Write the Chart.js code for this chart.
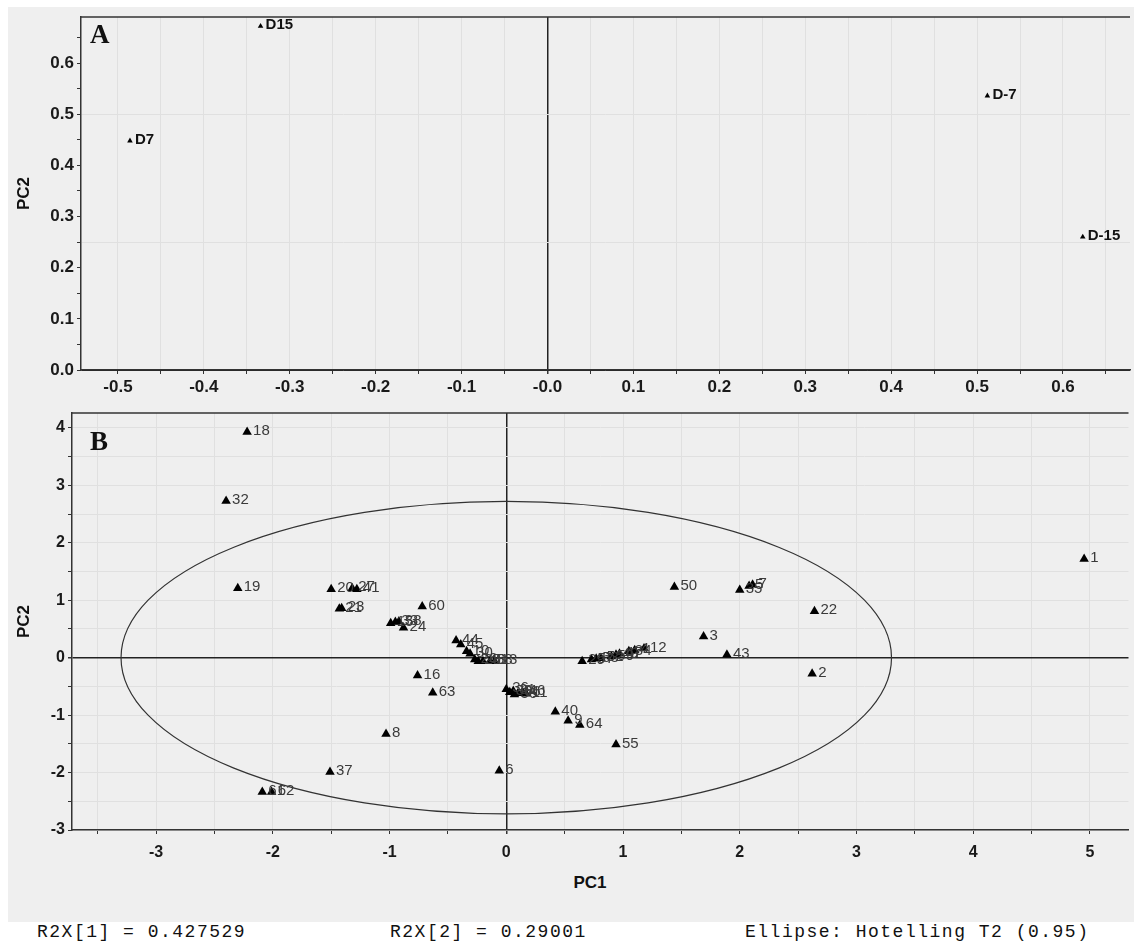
<!DOCTYPE html>
<html>
<head>
<meta charset="utf-8">
<script src="https://cdn.jsdelivr.net/npm/chart.js@4.4.1/dist/chart.umd.min.js"></script>
<style>
  body { margin: 0; background: #fff; width: 1134px; height: 943px; overflow: hidden; position: relative; }
  #panel { position: absolute; left: 8px; top: 7px; width: 1126px; height: 915px; background: #efefef; }
  canvas { position: absolute; left: 0; }
  #chartA { top: 0; }
  #chartB { top: 390px; }
  .tag { position: absolute; font-family: "Liberation Serif", "Times New Roman", serif; font-weight: bold; font-size: 27px; color: #111; line-height: 1; }
  #pc1 { position: absolute; top: 873px; left: 555px; width: 70px; text-align: center; font: bold 17px "Liberation Sans Narrow", "Liberation Sans", sans-serif; color: #111; }
  .foot { position: absolute; top: 923px; font: 18px "Liberation Mono", "Courier New", monospace; letter-spacing: 1.5px; color: #111; line-height: 1; }
</style>
</head>
<body>
<div id="panel"></div>
<canvas id="chartA" width="1134" height="400"></canvas>
<canvas id="chartB" width="1134" height="480"></canvas>
<div class="tag" style="left:90px; top:21px;">A</div>
<div class="tag" style="left:90px; top:428px;">B</div>
<div id="pc1">PC1</div>
<div class="foot" style="left:37px;">R2X[1] = 0.427529</div>
<div class="foot" style="left:390px;">R2X[2] = 0.29001</div>
<div class="foot" style="left:745px;">Ellipse: Hotelling T2 (0.95)</div>
<script>
// panel A: loadings
const aLabels = ["D15", "D7", "D-7", "D-15"];
const aPC1 = [-0.334, -0.486, 0.512, 0.623];
const aPC2 = [0.672, 0.448, 0.536, 0.26];

// panel B: scores
const bLabels = [
  "1", "2", "3", "5", "6", "7", "8", "9", "12", "16",
  "18", "19", "20", "21", "22", "23", "24", "27", "32", "35",
  "37", "40", "41", "43", "50", "55", "60", "61", "62", "63",
  "64", "15", "33", "38", "44", "45", "10", "30", "26", "28",
  "48", "58", "13", "36", "39", "56", "66", "46", "11", "31",
  "29", "57", "53", "52", "59", "49", "47", "34", "4"
];
const bPC1 = [
  4.95, 2.62, 1.69, 2.08, -0.06, 2.11, -1.03, 0.53, 1.18, -0.76,
  -2.22, -2.30, -1.50, -1.43, 2.64, -1.41, -0.88, -1.32, -2.40, 2.00,
  -1.51, 0.42, -1.28, 1.89, 1.44, 0.94, -0.72, -2.09, -2.01, -0.63,
  0.63, -0.99, -0.95, -0.92, -0.43, -0.39, -0.34, -0.31, -0.27, -0.24,
  -0.20, -0.14, -0.10, 0.00, 0.03, 0.07, 0.10, 0.14, 0.17, 0.06,
  0.65, 0.73, 0.77, 0.81, 0.90, 0.94, 0.97, 1.05, 1.10
];
const bPC2 = [
  1.72, -0.28, 0.37, 1.25, -1.97, 1.27, -1.33, -1.10, 0.16, -0.31,
  3.93, 1.21, 1.19, 0.85, 0.81, 0.86, 0.52, 1.21, 2.73, 1.18,
  -1.99, -0.94, 1.19, 0.05, 1.23, -1.51, 0.89, -2.34, -2.34, -0.61,
  -1.17, 0.60, 0.62, 0.63, 0.30, 0.23, 0.11, 0.07, -0.03, -0.06,
  -0.06, -0.06, -0.06, -0.55, -0.60, -0.64, -0.62, -0.60, -0.63, -0.58,
  -0.06, -0.03, -0.02, -0.01, 0.02, 0.05, 0.07, 0.11, 0.13
];

// Hotelling T2 (0.95) ellipse semi-axes
const ellipseA = 3.3;
const ellipseB = 2.72;

const tickFont = { family: "'Liberation Sans', Arial, sans-serif", size: 17, weight: "bold" };
const tickFontB = { family: "'Liberation Sans Narrow', 'Liberation Sans', Arial, sans-serif", size: 16, weight: "bold" };
const titleFont = { family: "'Liberation Sans', Arial, sans-serif", size: 17, weight: "bold" };

function isMult(v, step) {
  const r = v / step;
  return Math.abs(r - Math.round(r)) < 1e-6;
}

function gridColor(major) {
  return (c) => {
    const v = c.tick ? c.tick.value : null;
    if (v === null) return "rgba(0,0,0,0)";
    if (Math.abs(v) < 1e-9) return "#222";
    return major(v) ? "#e0e0e0" : "rgba(0,0,0,0)";
  };
}

function gridWidth(c) {
  return c.tick && Math.abs(c.tick.value) < 1e-9 ? 1.5 : 1;
}

const labelPlugin = {
  id: "pointLabels",
  afterDatasetsDraw(chart, args, opts) {
    const ctx = chart.ctx;
    const meta = chart.getDatasetMeta(0);
    ctx.save();
    ctx.font = opts.font;
    ctx.fillStyle = opts.color;
    ctx.textBaseline = "middle";
    meta.data.forEach((pt, i) => {
      ctx.fillText(opts.labels[i], pt.x + opts.dx, pt.y - 1);
    });
    ctx.restore();
  },
};

const framePlugin = {
  id: "frameTop",
  afterDraw(chart) {
    const { ctx, chartArea } = chart;
    ctx.save();
    ctx.strokeStyle = "#333";
    ctx.lineWidth = 1.5;
    ctx.beginPath();
    ctx.moveTo(chartArea.left, chartArea.top);
    ctx.lineTo(chartArea.right, chartArea.top);
    ctx.stroke();
    ctx.restore();
  },
};

const ellipsePlugin = {
  id: "hotelling",
  beforeDatasetsDraw(chart) {
    const { ctx, scales, chartArea } = chart;
    const cx = scales.x.getPixelForValue(0);
    const cy = scales.y.getPixelForValue(0);
    const rx = scales.x.getPixelForValue(ellipseA) - cx;
    const ry = cy - scales.y.getPixelForValue(ellipseB);
    ctx.save();
    ctx.beginPath();
    ctx.rect(chartArea.left, chartArea.top, chartArea.right - chartArea.left, chartArea.bottom - chartArea.top);
    ctx.clip();
    ctx.strokeStyle = "#333";
    ctx.lineWidth = 1.2;
    ctx.beginPath();
    ctx.ellipse(cx, cy, rx, ry, 0, 0, Math.PI * 2);
    ctx.stroke();
    ctx.restore();
  },
};

function baseOptions() {
  return {
    responsive: false,
    animation: false,
    devicePixelRatio: 1,
    plugins: { legend: { display: false }, tooltip: { enabled: false } },
  };
}

// chart A
const optsA = baseOptions();
optsA.layout = { padding: { top: 17, right: 0, left: 0, bottom: 0 } };
optsA.plugins.pointLabels = {
  labels: aLabels,
  font: "bold 15px 'Liberation Sans', Arial, sans-serif",
  color: "#111",
  dx: 5,
};
optsA.scales = {
  x: {
    type: "linear",
    min: -0.543,
    max: 0.678,
    afterFit: (s) => { s.height = 30; },
    border: { display: true, color: "#333", width: 1.5 },
    grid: { color: gridColor(() => true), lineWidth: gridWidth, tickColor: "#333", tickLength: 4 },
    ticks: {
      stepSize: 0.05,
      includeBounds: false,
      autoSkip: false,
      maxRotation: 0,
      padding: 3,
      color: "#1a1a1a",
      font: tickFont,
      callback: (v) => {
        if (!isMult(v, 0.1)) return "";
        if (Math.abs(v) < 1e-9) return "-0.0";
        return v.toFixed(1);
      },
    },
  },
  y: {
    type: "linear",
    min: 0,
    max: 0.69,
    afterFit: (s) => { s.width = 81; },
    border: { display: true, color: "#333", width: 1.5 },
    grid: { color: gridColor((v) => isMult(v, 0.25)), lineWidth: 1, tickColor: "#333", tickLength: 4 },
    title: { display: true, text: "PC2", font: titleFont, color: "#111", padding: { top: 14, bottom: 0 } },
    ticks: {
      stepSize: 0.05,
      includeBounds: false,
      autoSkip: false,
      padding: 3,
      color: "#1a1a1a",
      font: tickFont,
      callback: (v) => (isMult(v, 0.1) ? v.toFixed(1) : ""),
    },
  },
};

new Chart(document.getElementById("chartA"), {
  type: "scatter",
  data: {
    datasets: [{
      data: aPC1.map((x, i) => ({ x, y: aPC2[i] })),
      pointStyle: "triangle",
      pointRadius: 3.2,
      backgroundColor: "#000",
      borderColor: "#000",
      borderWidth: 0,
    }],
  },
  options: optsA,
  plugins: [labelPlugin, framePlugin],
});

// chart B
const optsB = baseOptions();
optsB.layout = { padding: { top: 23, right: 0, left: 0, bottom: 0 } };
optsB.plugins.pointLabels = {
  labels: bLabels,
  font: "15px 'Liberation Sans', Arial, sans-serif",
  color: "#3a3a3a",
  dx: 6,
};
optsB.scales = {
  x: {
    type: "linear",
    min: -3.72,
    max: 5.33,
    afterFit: (s) => { s.height = 40; },
    border: { display: true, color: "#333", width: 1.5 },
    grid: { color: gridColor(() => true), lineWidth: gridWidth, tickColor: "#333", tickLength: 4 },
    ticks: {
      stepSize: 0.5,
      includeBounds: false,
      autoSkip: false,
      maxRotation: 0,
      padding: 9,
      color: "#1a1a1a",
      font: tickFontB,
      callback: (v) => (isMult(v, 1) ? String(v) : ""),
    },
  },
  y: {
    type: "linear",
    min: -3,
    max: 4.26,
    afterFit: (s) => { s.width = 72; },
    border: { display: true, color: "#333", width: 1.5 },
    grid: { color: gridColor(() => true), lineWidth: gridWidth, tickColor: "#333", tickLength: 4 },
    title: { display: true, text: "PC2", font: titleFont, color: "#111", padding: { top: 14, bottom: 0 } },
    ticks: {
      stepSize: 0.5,
      includeBounds: false,
      autoSkip: false,
      padding: 3,
      color: "#1a1a1a",
      font: tickFontB,
      callback: (v) => (isMult(v, 1) ? String(v) : ""),
    },
  },
};

new Chart(document.getElementById("chartB"), {
  type: "scatter",
  data: {
    datasets: [{
      data: bPC1.map((x, i) => ({ x, y: bPC2[i] })),
      pointStyle: "triangle",
      pointRadius: 5.5,
      backgroundColor: "#000",
      borderColor: "#000",
      borderWidth: 0,
    }],
  },
  options: optsB,
  plugins: [ellipsePlugin, labelPlugin, framePlugin],
});
</script>
</body>
</html>
